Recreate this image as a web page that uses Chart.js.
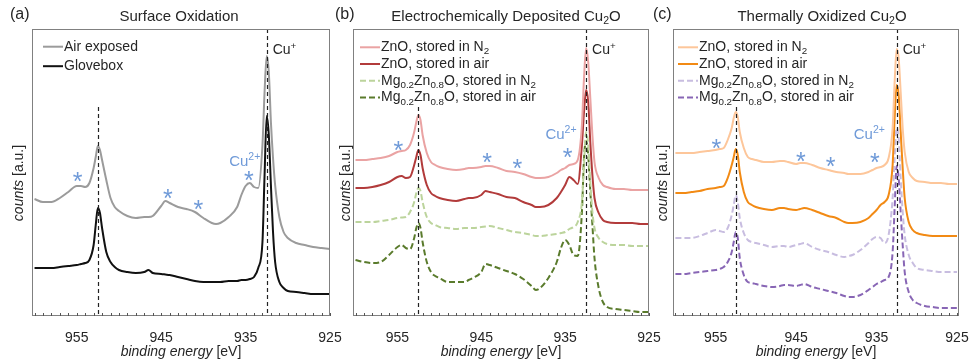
<!DOCTYPE html>
<html>
<head>
<meta charset="utf-8">
<script src="https://cdn.jsdelivr.net/npm/chart.js@4.4.1/dist/chart.umd.min.js"></script>
<style>
  html, body { margin: 0; padding: 0; overflow: hidden; background: #fff; }
  #figure { position: relative; width: 971px; height: 364px; }
  canvas { position: absolute; top: 0; }
</style>
</head>
<body>
<div id="figure">
<canvas id="panelA" width="350" height="364" style="left:0px"></canvas>
<canvas id="panelB" width="350" height="364" style="left:320px"></canvas>
<canvas id="panelC" width="331" height="364" style="left:640px"></canvas>
</div>
<script>
// binding energy grid (eV), shared by every spectrum
const energy = [960, 959, 958, 957, 956, 955, 954.5, 954, 953.5, 953, 952.75, 952.5, 952.25, 952, 951.5, 951, 950.5, 950,
  949, 948, 947, 946.5, 946, 945, 944.5, 944, 943, 942, 941, 940, 939, 938.5, 938, 937, 936, 935.5, 935, 934.5, 934,
  933.5, 933, 932.75, 932.5, 932.25, 932, 931.75, 931.5, 931, 930.5, 930, 929, 928, 927, 926, 925];

// (a) surface oxidation
const airExposed = [117, 114, 114, 118, 124, 130, 130, 129, 133, 148, 159, 170, 166, 156, 136, 118, 109, 105,
  100, 98, 99, 99, 100, 110, 115, 113, 109, 107, 104, 98, 93, 92, 93, 99, 109, 121, 130, 133, 129,
  128, 171, 224, 260, 244, 194, 158, 131, 99, 84, 78, 73, 71, 69, 68, 67];
const glovebox = [48, 48, 48, 49, 50, 51, 52, 53, 56, 71, 91, 108, 103, 88, 64, 54, 49, 46,
  44, 43, 44, 46, 43, 42, 41.5, 41, 39, 37, 35, 34, 34, 34, 34, 35, 35, 36, 36, 37, 39,
  48, 74, 141, 200, 181, 131, 84, 54, 34, 28, 25, 24, 23, 22, 22, 22];

// (b) electrochemically deposited Cu2O
const ecZnON2 = [156, 156, 157, 158, 160, 164, 165, 166, 171, 184, 194, 201, 196, 181, 163, 154, 151, 149,
  147, 146, 147, 148, 148, 149, 150, 150, 148, 145, 144, 142, 139, 138, 138, 139, 143, 146, 148, 151, 152,
  156, 191, 238, 268, 254, 218, 181, 154, 138, 131, 129, 127, 127, 126, 126, 126];
const ecZnOAir = [128, 128, 129, 131, 134, 139, 140, 138, 139, 151, 159, 166, 161, 148, 131, 123, 120, 118,
  116, 115, 117, 118, 118, 121, 125, 124, 122, 119, 118, 114, 111, 109, 109, 111, 118, 124, 131, 139, 136,
  132, 171, 204, 226, 214, 174, 141, 118, 103, 96, 94, 93, 93, 93, 92, 92];
const ecMgN2 = [94, 94, 94, 95, 96, 98, 98.5, 99, 104, 114, 123, 128, 125, 114, 99, 93, 91, 89,
  88, 87, 88, 88, 88, 89, 89.5, 90, 88, 86, 84, 83, 81, 80, 80, 81, 82, 83, 84, 87, 89,
  94, 114, 151, 184, 171, 134, 104, 88, 78, 74, 72, 71, 71, 70, 70, 70];
const ecMgAir = [56, 54, 53, 54, 61, 69, 71, 68, 67, 78, 88, 93, 88, 74, 54, 44, 40, 38,
  34, 34, 34, 36, 38, 44, 52, 51, 48, 45, 42, 37, 30, 26, 28, 38, 54, 68, 76, 71, 61,
  60, 104, 158, 175, 160, 125, 91, 58, 28, 14, 9, 7, 6, 5, 4, 4];

// (c) thermally oxidized Cu2O
const thZnON2 = [163, 163, 163, 164, 165, 166, 167, 168, 176, 188, 198, 204, 199, 184, 168, 159, 157, 156,
  154, 154, 155, 155, 154, 152, 153, 153, 151, 148, 146, 144, 143, 142, 142, 142, 144, 146, 148, 149, 151,
  158, 188, 234, 267, 258, 224, 188, 164, 144, 138, 135, 134, 133, 133, 132, 132];
const thZnOAir = [123, 123, 124, 125, 127, 128, 129, 130, 138, 151, 159, 167, 161, 144, 124, 114, 111, 109,
  107, 106, 108, 108, 107, 106, 107, 108, 106, 103, 100, 98, 94, 93, 93, 94, 98, 102, 106, 111, 114,
  121, 151, 198, 231, 221, 184, 148, 118, 94, 86, 83, 81, 80, 80, 80, 80];
const thMgN2 = [78, 78, 78, 80, 83, 86, 85, 84, 88, 101, 111, 121, 114, 98, 83, 76, 74, 73,
  71, 69, 70, 70, 69, 71, 72, 73, 69, 66, 64, 61, 59, 60, 61, 66, 73, 77, 79, 78, 73,
  81, 118, 158, 188, 178, 138, 104, 81, 61, 53, 48, 46, 45, 44, 44, 44];
const thMgAir = [42, 42, 43, 44, 45, 46, 47, 49, 54, 64, 74, 84, 78, 58, 41, 34, 33, 32,
  30, 29, 30, 31, 31, 30, 31, 32, 29, 27, 25, 23, 20, 19, 19, 21, 26, 29, 32, 34, 36,
  39, 64, 108, 150, 138, 104, 71, 44, 24, 16, 13, 10, 9, 8, 8, 8];

const tickValues = [955, 945, 935, 925];
const peakLines = [952.5, 932.5];
const peakLineTops = [209, 287];

// Cu2+ satellite markers [eV, counts]
const starsA = [[954.9, 140], [944.2, 123], [940.6, 112], [934.6, 141]];
const starsB = [[954.9, 171], [944.3, 159], [940.7, 153], [934.7, 164]];
const starsC = [[954.9, 173], [944.4, 160], [940.7, 155], [935.2, 159]];
const cu2LabelA = [935.1, 154];
const cu2LabelB = [935.5, 181];
const cu2LabelC = [935.9, 181];

const FONT = '"Liberation Sans", Arial, sans-serif';
const INK = '#262626';
const BLUE = '#6f9ad8';

// tiny rich text: _{sub} ^{sup} *{italic}
function parseRich(s) {
  const out = [];
  const re = /([_^*])\{([^}]*)\}/g;
  let last = 0, m;
  while ((m = re.exec(s))) {
    if (m.index > last) out.push({ t: s.slice(last, m.index), k: '' });
    out.push({ t: m[2], k: m[1] });
    last = re.lastIndex;
  }
  if (last < s.length) out.push({ t: s.slice(last), k: '' });
  return out;
}
function segFont(k, size) {
  const sz = (k === '_' || k === '^') ? size * 0.7 : size;
  return (k === '*' ? 'italic ' : '') + sz + 'px ' + FONT;
}
function drawRich(ctx, s, x, y, size, color, align) {
  const segs = parseRich(s);
  ctx.save();
  ctx.fillStyle = color;
  ctx.textAlign = 'left';
  ctx.textBaseline = 'middle';
  let w = 0;
  segs.forEach(g => { ctx.font = segFont(g.k, size); w += ctx.measureText(g.t).width; });
  let cx = align === 'center' ? x - w / 2 : x;
  segs.forEach(g => {
    ctx.font = segFont(g.k, size);
    const dy = g.k === '_' ? size * 0.32 : g.k === '^' ? -size * 0.3 : 0;
    ctx.fillText(g.t, cx, y + dy);
    cx += ctx.measureText(g.t).width;
  });
  ctx.restore();
}

// frame, ticks, dashed lines, legend and labels
const decor = {
  id: 'decor',
  afterDatasetsDraw(chart, args, o) {
    const ctx = chart.ctx, sx = chart.scales.x, sy = chart.scales.y, a = chart.chartArea;
    ctx.save();

    ctx.strokeStyle = '#222';
    ctx.lineWidth = 1.2;
    ctx.setLineDash([4, 3]);
    peakLines.forEach((e, i) => {
      const px = Math.round(sx.getPixelForValue(e)) + 0.5;
      ctx.beginPath();
      ctx.moveTo(px, sy.getPixelForValue(peakLineTops[i]));
      ctx.lineTo(px, a.bottom);
      ctx.stroke();
    });
    ctx.setLineDash([]);

    ctx.strokeStyle = '#808080';
    ctx.lineWidth = 1;
    ctx.strokeRect(a.left + 0.5, a.top + 0.5, a.right - a.left - 1, a.bottom - a.top - 1);
    ctx.strokeStyle = '#555';
    for (let v = 925; v <= 960; v++) {
      const px = Math.round(sx.getPixelForValue(v)) + 0.5;
      ctx.beginPath();
      ctx.moveTo(px, a.bottom);
      ctx.lineTo(px, a.bottom - 3);
      ctx.stroke();
    }

    // asterisks
    ctx.fillStyle = BLUE;
    ctx.font = '25px ' + FONT;
    ctx.textAlign = 'center';
    ctx.textBaseline = 'alphabetic';
    o.stars.forEach(p => {
      ctx.fillText('*', sx.getPixelForValue(p[0]), sy.getPixelForValue(p[1]) + 14);
    });

    // legend
    chart.data.datasets.forEach((ds, i) => {
      const ly = o.legendY + i * o.legendGap;
      ctx.strokeStyle = ds.borderColor;
      ctx.lineWidth = ds.borderWidth;
      ctx.setLineDash(ds.borderDash || []);
      ctx.beginPath();
      ctx.moveTo(o.legendX, ly);
      ctx.lineTo(o.legendX + 20, ly);
      ctx.stroke();
      ctx.setLineDash([]);
      drawRich(ctx, ds.label, o.legendX + 21, ly, 14, INK, 'left');
    });

    drawRich(ctx, o.letter, o.letterX, 15, 16, INK, 'left');
    drawRich(ctx, o.title, o.titleX, 16.5, 15, INK, 'center');
    drawRich(ctx, '*{binding energy} [eV]', (a.left + a.right) / 2, 352, 14, INK, 'center');
    ctx.save();
    ctx.translate(o.yTitleX, 183);
    ctx.rotate(-Math.PI / 2);
    drawRich(ctx, '*{counts} [a.u.]', 0, 0, 14, INK, 'center');
    ctx.restore();

    drawRich(ctx, 'Cu^{+}', sx.getPixelForValue(932.5) + 6, sy.getPixelForValue(266), 14, INK, 'left');
    drawRich(ctx, 'Cu^{2+}', sx.getPixelForValue(o.cu2[0]), sy.getPixelForValue(o.cu2[1]), 15, BLUE, 'center');
    ctx.restore();
  }
};

function serie(label, values, color, dashed) {
  return {
    label: label,
    data: energy.map((e, i) => ({ x: e, y: values[i] })),
    borderColor: color,
    borderWidth: 2,
    borderDash: dashed ? [6, 3] : [],
    pointRadius: 0,
    cubicInterpolationMode: 'monotone',
    fill: false
  };
}

function panel(id, datasets, padding, xMin, deco) {
  return new Chart(document.getElementById(id), {
    type: 'line',
    data: { datasets: datasets },
    options: {
      responsive: false,
      animation: false,
      events: [],
      layout: { padding: padding },
      plugins: { legend: { display: false }, tooltip: { enabled: false }, decor: deco },
      scales: {
        x: {
          type: 'linear',
          reverse: true,
          min: xMin,
          max: 960.3,
          grid: { display: false },
          border: { display: false },
          ticks: { font: { size: 14, family: FONT }, color: INK, padding: 6, maxRotation: 0 },
          afterBuildTicks: s => { s.ticks = tickValues.map(v => ({ value: v })); },
          // fixed axis box so the plot frame lands where it should (room for the last label kept)
          afterFit: s => { s.height = 48; s.paddingLeft = 0; s.paddingRight = padding.right; }
        },
        y: { display: false, min: 0, max: 287 }
      }
    },
    plugins: [decor]
  });
}

panel('panelA', [
  serie('Air exposed', airExposed, '#9b9b9b', false),
  serie('Glovebox', glovebox, '#111111', false)
], { left: 32, right: 20, top: 29, bottom: 0 }, 925, {
  letter: '(a)', letterX: 10, title: 'Surface Oxidation', titleX: 179, yTitleX: 19,
  legendX: 43, legendY: 46.7, legendGap: 19.5, stars: starsA, cu2: cu2LabelA
});

panel('panelB', [
  serie('ZnO, stored in N_{2}', ecZnON2, '#eaa3a3', false),
  serie('ZnO, stored in air', ecZnOAir, '#b23b3b', false),
  serie('Mg_{0.2}Zn_{0.8}O, stored in N_{2}', ecMgN2, '#bcd49c', true),
  serie('Mg_{0.2}Zn_{0.8}O, stored in air', ecMgAir, '#5a7b2c', true)
], { left: 33, right: 21, top: 29, bottom: 0 }, 925, {
  letter: '(b)', letterX: 15, title: 'Electrochemically Deposited Cu_{2}O', titleX: 186, yTitleX: 26,
  legendX: 40, legendY: 47.3, legendGap: 16.7, stars: starsB, cu2: cu2LabelB
});

panel('panelC', [
  serie('ZnO, stored in N_{2}', thZnON2, '#fdc69a', false),
  serie('ZnO, stored in air', thZnOAir, '#f28a14', false),
  serie('Mg_{0.2}Zn_{0.8}O, stored in N_{2}', thMgN2, '#c8bde0', true),
  serie('Mg_{0.2}Zn_{0.8}O, stored in air', thMgAir, '#8866b5', true)
], { left: 33, right: 12, top: 29, bottom: 0 }, 924.75, {
  letter: '(c)', letterX: 13, title: 'Thermally Oxidized Cu_{2}O', titleX: 182, yTitleX: 23,
  legendX: 38, legendY: 47.3, legendGap: 16.7, stars: starsC, cu2: cu2LabelC
});
</script>
</body>
</html>
